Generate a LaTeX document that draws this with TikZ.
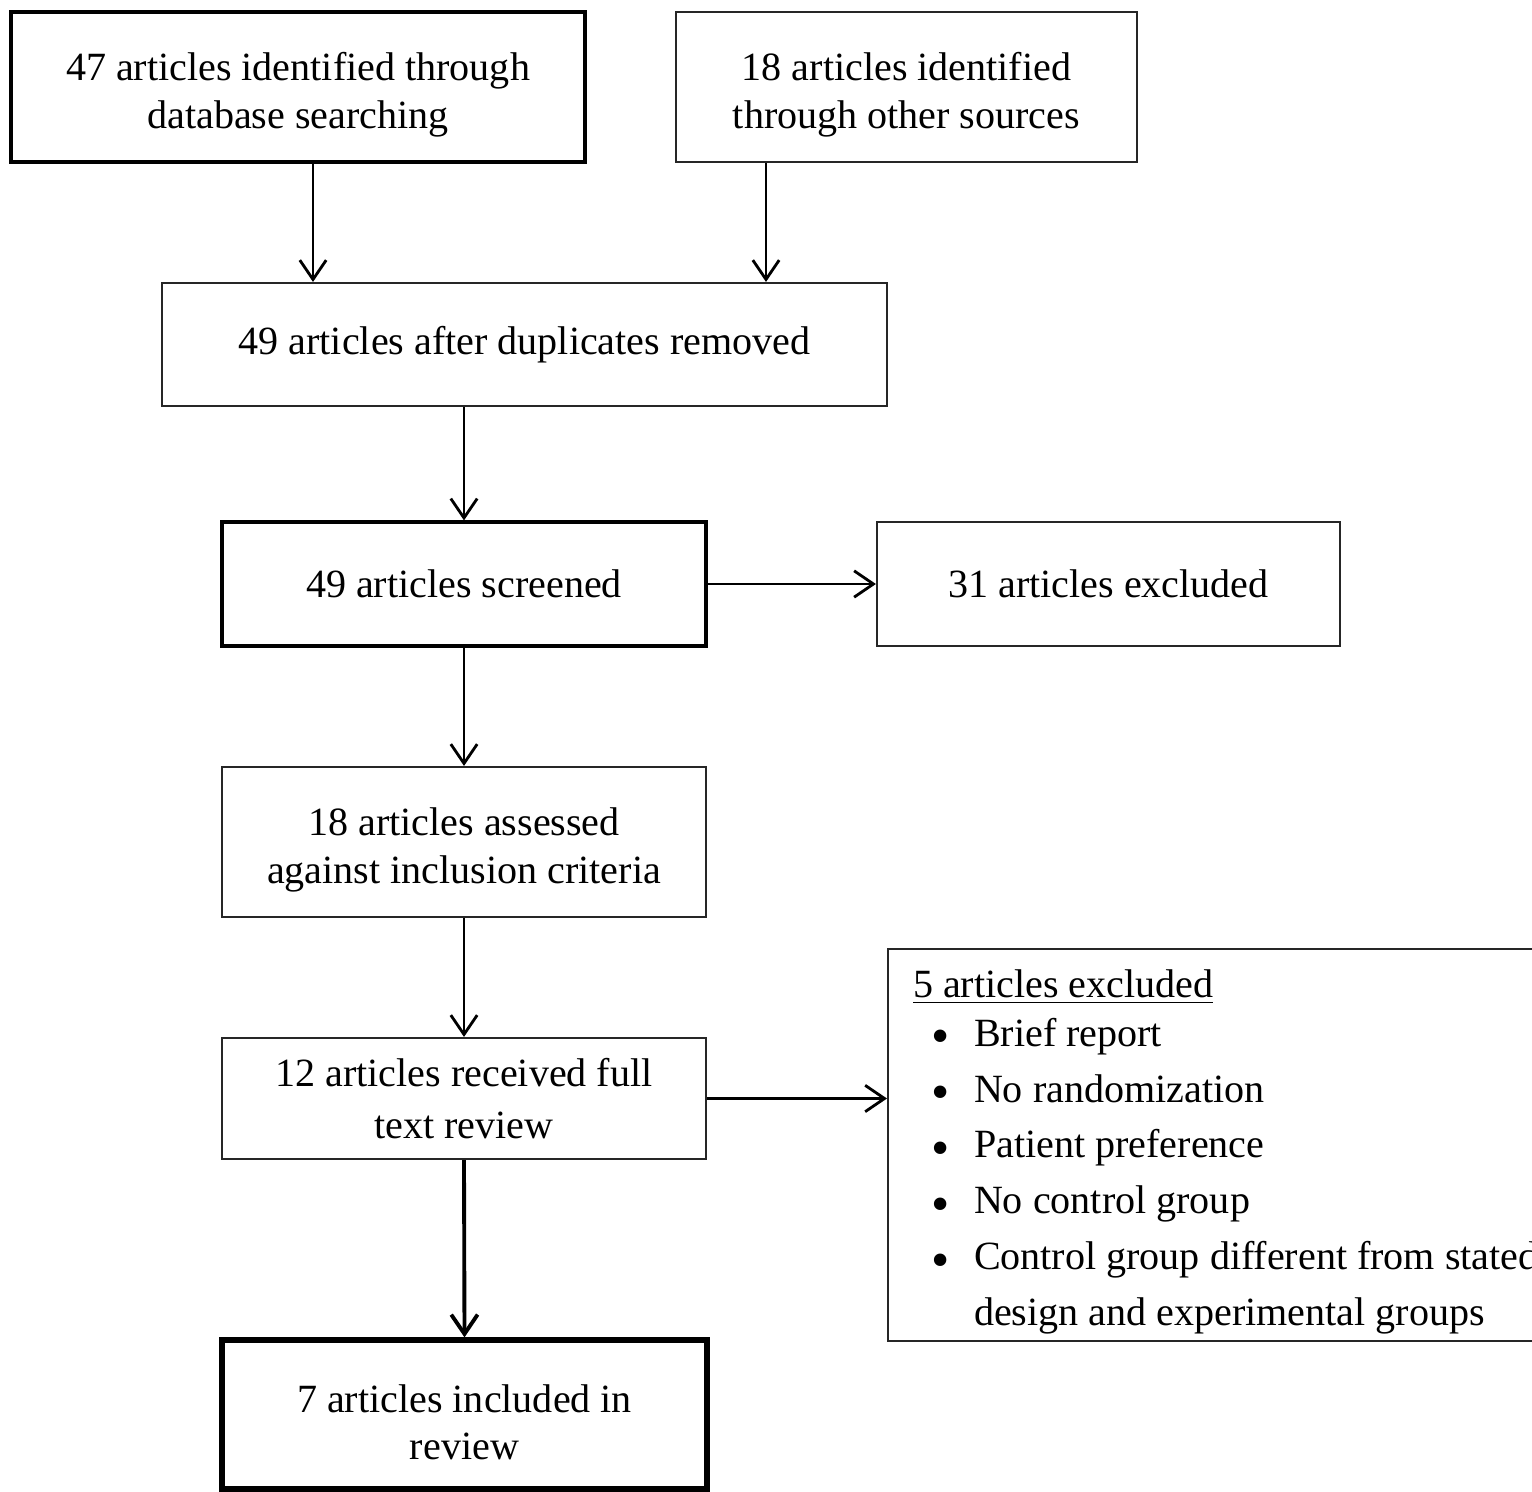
\documentclass[tikz,border=0pt]{standalone}
\usepackage{fontspec}
\setmainfont{Liberation Serif}
\usetikzlibrary{arrows.meta}

\newcommand\lowr[1]{\rule{0pt}{#1}}
\newcommand\itm{\hspace*{0.185cm}\makebox[0.425cm][l]{\raisebox{-2.2pt}{\scalebox{1.3}{\textbullet}}}}

\tikzset{
  box/.style={draw=black!85, line width=0.6pt, align=center, inner sep=0pt,
    font=\fontsize{11.4}{13.4}\selectfont},
  thickbox/.style={box, draw=black, line width=0.9pt},
  arr/.style={-{Straight Barb[length=5.5pt,width=7.5pt]}, line width=0.8pt},
}

\begin{document}
\begin{tikzpicture}
\useasboundingbox (0,0) rectangle (15.32,-14.92);
\clip (0,0) rectangle (15.32,-14.92);

% Quellen oben
\node[thickbox, minimum width=5.74cm, minimum height=1.5cm] (db) at (2.98,-0.87) {\lowr{12.4pt}47 articles identified through\\database searching};
\node[box, minimum width=4.61cm, minimum height=1.5cm] (other) at (9.065,-0.87) {\lowr{12.4pt}18 articles identified\\through other sources};

% nach Duplikaten
\node[box, minimum width=7.25cm, minimum height=1.23cm] (dup) at (5.245,-3.445) {49 articles after duplicates removed};

% Screening und Ausschluss
\node[thickbox, minimum width=4.84cm, minimum height=1.24cm] (scr) at (4.64,-5.84) {49 articles screened};
\node[box, minimum width=4.63cm, minimum height=1.24cm] (exc1) at (11.085,-5.84) {31 articles excluded};

% Kriterien, Volltext, Ergebnis
\node[box, minimum width=4.84cm, minimum height=1.5cm] (ass) at (4.64,-8.42) {\lowr{12.4pt}18 articles assessed\\against inclusion criteria};
\node[box, minimum width=4.84cm, minimum height=1.21cm] (full) at (4.64,-10.985) {12 articles received full\\[1.6pt]text review};
\node[box, draw=black, line width=1.5pt, minimum width=4.85cm, minimum height=1.49cm] (incl) at (4.645,-14.145) {\lowr{12.4pt}7 articles included in\\review};

% Liste der Ausschlussgruende
\node[box, anchor=north west, align=flush left, text width=7cm, minimum height=3.92cm, inner xsep=0.25cm,
  font=\fontsize{11.4}{15.9}\selectfont] (exc2) at (8.87,-9.48)
  {\lowr{11.8pt}\underline{5 articles excluded}\\[-2pt]
   \itm Brief report\\
   \itm No randomization\\
   \itm Patient preference\\
   \itm No control group\\
   \itm Control group different from stated\\
   \hspace*{0.61cm}design and experimental groups};

% Pfeile
\draw[arr] ([xshift=0.15cm]db.south) -- ([xshift=0.15cm]db.south |- dup.north);
\draw[arr] ([xshift=-1.405cm]other.south) -- ([xshift=-1.405cm]other.south |- dup.north);
\draw[arr] (dup.south -| scr.north) -- (scr.north);
\draw[arr] (scr.east) -- (exc1.west);
\draw[arr] (scr.south) -- (ass.north);
\draw[arr] (ass.south) -- (full.north);
\draw[arr] (full.east) -- (full.east -| exc2.west);
\draw[arr, line width=1.1pt] (full.south) -- (incl.north);

\end{tikzpicture}
\end{document}
